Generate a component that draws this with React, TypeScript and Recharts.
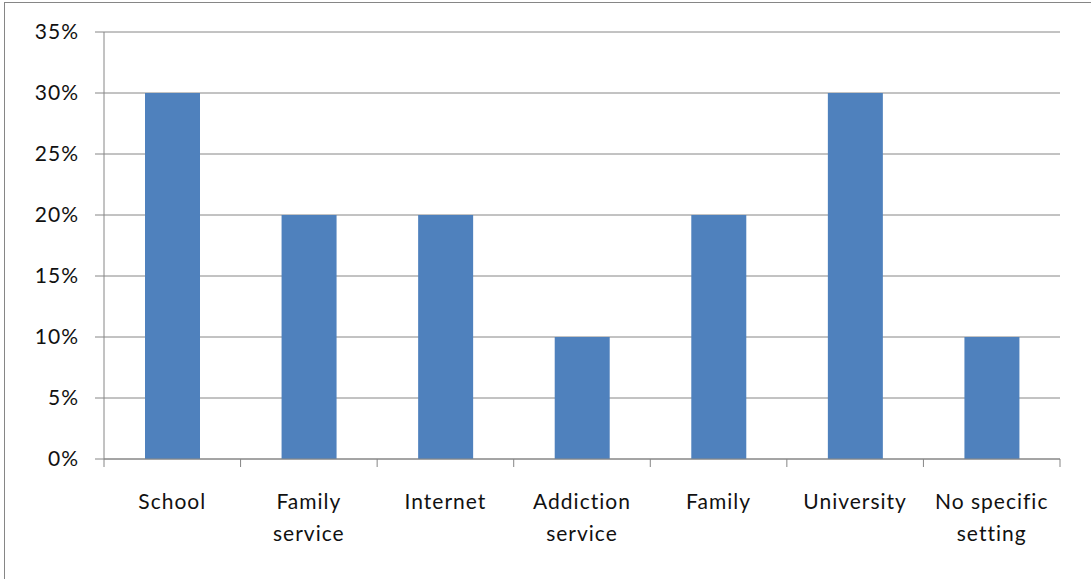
import React from "react";
import { BarChart, Bar, XAxis, YAxis, CartesianGrid } from "recharts";

const categories = ["School", "Family service", "Internet", "Addiction service", "Family", "University", "No specific setting"];
const categoryLines = [["School"], ["Family", "service"], ["Internet"], ["Addiction", "service"], ["Family"], ["University"], ["No specific", "setting"]];
const values = [0.3, 0.2, 0.2, 0.1, 0.2, 0.3, 0.1];
const yTicks = [0, 0.05, 0.1, 0.15, 0.2, 0.25, 0.3, 0.35];

const data = categories.map((c, i) => ({ name: c, value: values[i] }));

const FONT = "Lato, 'Open Sans', sans-serif";
const GRAY = "#868686";

const CatTick = (props: any) => {
  const { x, y, index, payload, visibleTicksCount } = props;
  const lines = categoryLines[index] || [];
  const half = payload && payload.offset ? payload.offset : 0;
  const last = index === (visibleTicksCount || categories.length) - 1;
  return (
    <g>
      <line x1={x - half} x2={x - half} y1={y} y2={y + 8} stroke={GRAY} />
      {last && <line x1={x + half} x2={x + half} y1={y} y2={y + 8} stroke={GRAY} />}
      <text x={x} y={y + 50} textAnchor="middle" fill="#111" fontSize={21} fontFamily={FONT} letterSpacing={1}>
        {lines.map((l: string, i: number) => (
          <tspan key={i} x={x} dy={i === 0 ? 0 : 32}>
            {l}
          </tspan>
        ))}
      </text>
    </g>
  );
};

export default function App() {
  return (
    <div style={{ position: "absolute", left: 0, top: 0, width: 1091, height: 579, background: "#fff" }}>
      <div
        style={{
          position: "absolute",
          left: 4,
          top: 2,
          width: 1087,
          height: 577,
          borderLeft: `1px solid ${GRAY}`,
          borderTop: `1px solid ${GRAY}`,
        }}
      />
      <div style={{ position: "absolute", left: 0, top: 0 }}>
        <BarChart width={1091} height={579} data={data} margin={{ top: 32, right: 31, bottom: 0, left: 0 }} barSize={55}>
          <CartesianGrid horizontal vertical={false} stroke={GRAY} strokeWidth={1} />
          <YAxis
            width={104}
            domain={[0, 0.35]}
            ticks={yTicks}
            tickFormatter={(v: number) => `${Math.round(v * 100)}%`}
            tickSize={9}
            tickMargin={16}
            axisLine={{ stroke: GRAY }}
            tickLine={{ stroke: GRAY }}
            tick={{ fill: "#111", fontSize: 21, fontFamily: FONT, letterSpacing: 1 }}
          />
          <XAxis
            dataKey="name"
            height={120}
            tickSize={0}
            tickMargin={0}
            tickLine={false}
            axisLine={{ stroke: GRAY }}
            interval={0}
            tick={<CatTick />}
          />
          <Bar dataKey="value" fill="#4F81BD" isAnimationActive={false} />
        </BarChart>
      </div>
    </div>
  );
}
